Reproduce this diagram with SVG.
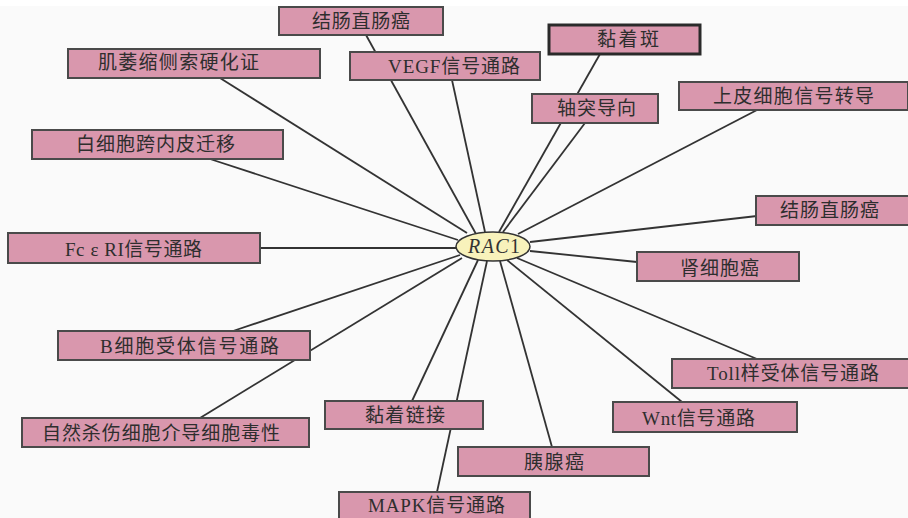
<svg xmlns="http://www.w3.org/2000/svg" width="908" height="518" viewBox="0 0 908 518">
<style>
.bg{fill:#fafafa}
.box rect{fill:#d997ad;stroke:#4a4a4a;stroke-width:2}
.box.thick rect{stroke:#2a2a2a;stroke-width:3}
.box text{font-family:"Liberation Serif","Noto Sans CJK SC",serif;font-size:19px;fill:#2e2e2e;dominant-baseline:central}
#edges line{stroke:#333;stroke-width:1.8}
#rac1 ellipse{fill:#f8f2bb;stroke:#333;stroke-width:1.5}
#rac1 text{font-family:"Liberation Serif",serif;font-size:20px;fill:#333;dominant-baseline:central}
</style>
<rect class="bg" x="0" y="0" width="908" height="518"/>
<rect x="0" y="0" width="908" height="6" fill="#ffffff"/>
<g id="edges">
<line x1="366" y1="35" x2="476" y2="234"/>
<line x1="220" y1="78" x2="467" y2="233"/>
<line x1="452" y1="80" x2="485" y2="232"/>
<line x1="210" y1="159" x2="458" y2="240"/>
<line x1="600" y1="54" x2="499" y2="232"/>
<line x1="585" y1="123" x2="503" y2="232"/>
<line x1="757" y1="110" x2="518" y2="234"/>
<line x1="757" y1="216" x2="530" y2="242"/>
<line x1="637" y1="262" x2="530" y2="251"/>
<line x1="757" y1="359" x2="517" y2="258"/>
<line x1="682" y1="402" x2="507" y2="260"/>
<line x1="552" y1="447" x2="500" y2="261"/>
<line x1="437" y1="492" x2="487" y2="261"/>
<line x1="412" y1="401" x2="478" y2="260"/>
<line x1="200" y1="418" x2="462" y2="258"/>
<line x1="233" y1="331" x2="460" y2="255"/>
<line x1="260" y1="248" x2="456" y2="248"/>
</g>
<g id="rac1">
<ellipse cx="493" cy="246.5" rx="37" ry="14.5"/>
<text x="468" y="246" textLength="52" lengthAdjust="spacing"><tspan font-style="italic">RAC</tspan>1</text>
</g>
<g id="n1" class="box"><rect x="279" y="7" width="164" height="28"/><text x="312" y="21" textLength="98" lengthAdjust="spacing">结肠直肠癌</text></g>
<g id="n2" class="box"><rect x="68" y="49" width="252" height="29"/><text x="98" y="62.5" textLength="161" lengthAdjust="spacing">肌萎缩侧索硬化证</text></g>
<g id="n3" class="box"><rect x="350" y="52" width="190" height="28"/><text x="388" y="66" textLength="132" lengthAdjust="spacing">VEGF信号通路</text></g>
<g id="n4" class="box"><rect x="32" y="130" width="251" height="29"/><text x="76" y="144.5" textLength="159" lengthAdjust="spacing">白细胞跨内皮迁移</text></g>
<g id="n5" class="box thick"><rect x="549" y="25" width="151" height="29"/><text x="597" y="39.5" textLength="62" lengthAdjust="spacing">黏着斑</text></g>
<g id="n6" class="box"><rect x="532" y="94" width="126" height="29"/><text x="557" y="108.5" textLength="79" lengthAdjust="spacing">轴突导向</text></g>
<g id="n7" class="box"><rect x="679" y="82" width="229" height="28"/><text x="713" y="96" textLength="161" lengthAdjust="spacing">上皮细胞信号转导</text></g>
<g id="n8" class="box"><rect x="756" y="196" width="153" height="29"/><text x="780" y="210.5" textLength="99" lengthAdjust="spacing">结肠直肠癌</text></g>
<g id="n9" class="box"><rect x="637" y="252" width="162" height="29"/><text x="680" y="268" textLength="79" lengthAdjust="spacing">肾细胞癌</text></g>
<g id="n10" class="box"><rect x="672" y="359" width="238" height="29"/><text x="707" y="373.5" textLength="172" lengthAdjust="spacing">Toll样受体信号通路</text></g>
<g id="n11" class="box"><rect x="613" y="402" width="184" height="30"/><text x="642" y="418" textLength="113" lengthAdjust="spacing">Wnt信号通路</text></g>
<g id="n12" class="box"><rect x="458" y="447" width="191" height="29"/><text x="524" y="462" textLength="60" lengthAdjust="spacing">胰腺癌</text></g>
<g id="n13" class="box"><rect x="339" y="492" width="191" height="30"/><text x="368" y="505" textLength="137" lengthAdjust="spacing">MAPK信号通路</text></g>
<g id="n14" class="box"><rect x="325" y="401" width="158" height="28"/><text x="365" y="415" textLength="80" lengthAdjust="spacing">黏着链接</text></g>
<g id="n15" class="box"><rect x="22" y="418" width="287" height="29"/><text x="42" y="433" textLength="238" lengthAdjust="spacing">自然杀伤细胞介导细胞毒性</text></g>
<g id="n16" class="box"><rect x="58" y="331" width="252" height="29"/><text x="100" y="346" textLength="179" lengthAdjust="spacing">B细胞受体信号通路</text></g>
<g id="n17" class="box"><rect x="8" y="233" width="252" height="30"/><text x="65" y="249" textLength="137" lengthAdjust="spacing">Fc ε RI信号通路</text></g>
</svg>
